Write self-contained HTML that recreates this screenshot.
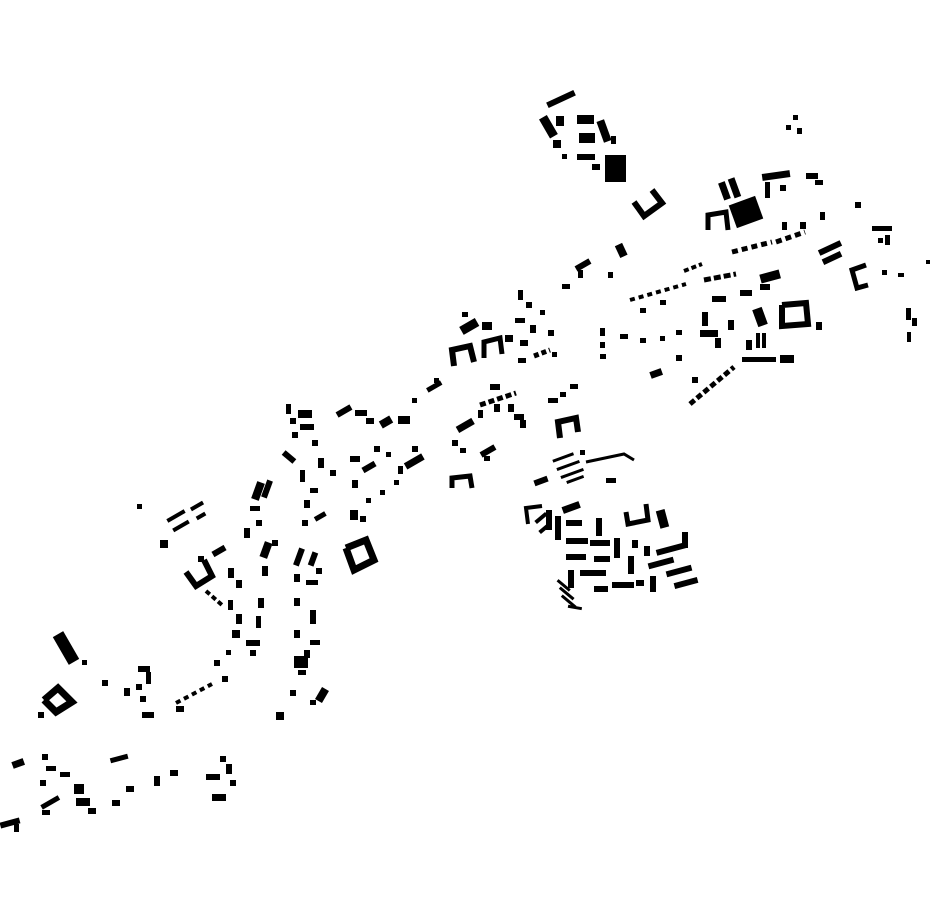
<!DOCTYPE html>
<html><head><meta charset="utf-8"><style>html,body{margin:0;padding:0;background:#fff}svg{display:block}</style></head>
<body>
<svg width="930" height="924" viewBox="0 0 930 924" xmlns="http://www.w3.org/2000/svg" fill="#000">
<!-- top cluster -->
<rect x="546" y="96" width="30" height="6" transform="rotate(-25 561 99)"/>
<rect x="544" y="116" width="9" height="22" transform="rotate(-30 548 127)"/>
<rect x="556" y="116" width="8" height="10"/>
<rect x="577" y="115" width="17" height="9"/>
<rect x="579" y="133" width="16" height="10"/>
<rect x="600" y="120" width="8" height="22" transform="rotate(-20 604 131)"/>
<rect x="605" y="155" width="21" height="27"/>
<rect x="577" y="154" width="18" height="6"/>
<rect x="592" y="164" width="8" height="6"/>
<rect x="553" y="140" width="8" height="8"/>
<rect x="562" y="154" width="5" height="5"/>
<rect x="611" y="136" width="5" height="8"/>
<polyline points="634,202 644,216 662,203 652,190" fill="none" stroke="#000" stroke-width="6"/>
<rect x="617" y="244" width="8" height="13" transform="rotate(-25 621 250)"/>
<!-- right cluster -->
<rect x="732" y="200" width="28" height="24" transform="rotate(-20 746 212)"/>
<rect x="721" y="182" width="7" height="18" transform="rotate(-20 724 191)"/>
<rect x="731" y="178" width="7" height="20" transform="rotate(-20 734 188)"/>
<polyline points="708,230 708,215 726,212 728,230" fill="none" stroke="#000" stroke-width="5"/>
<rect x="762" y="172" width="28" height="7" transform="rotate(-8 776 175)"/>
<rect x="765" y="182" width="5" height="16"/>
<rect x="780" y="185" width="6" height="6"/>
<rect x="806" y="173" width="12" height="6"/>
<rect x="815" y="180" width="8" height="5"/>
<rect x="793" y="115" width="5" height="5"/><rect x="786" y="125" width="5" height="5"/><rect x="797" y="128" width="5" height="6"/>
<rect x="855" y="202" width="6" height="6"/>
<rect x="872" y="226" width="20" height="5"/><rect x="885" y="235" width="5" height="10"/><rect x="878" y="238" width="5" height="5"/>
<polyline points="866,265 852,270 857,288 868,285" fill="none" stroke="#000" stroke-width="5"/>
<rect x="882" y="270" width="5" height="5"/><rect x="898" y="273" width="6" height="4"/><rect x="926" y="260" width="4" height="4"/>
<rect x="906" y="308" width="5" height="12"/><rect x="912" y="318" width="5" height="8"/><rect x="907" y="332" width="4" height="10"/>
<rect x="818" y="245" width="24" height="6" transform="rotate(-25 830 248)"/>
<rect x="822" y="255" width="20" height="6" transform="rotate(-25 832 258)"/>
<line x1="732" y1="252" x2="772" y2="242" stroke="#000" stroke-width="5" stroke-dasharray="6 4"/>
<line x1="776" y1="242" x2="805" y2="232" stroke="#000" stroke-width="5" stroke-dasharray="6 4"/>
<rect x="782" y="222" width="5" height="8"/><rect x="800" y="222" width="6" height="7"/><rect x="820" y="212" width="5" height="8"/>
<rect x="760" y="272" width="20" height="9" transform="rotate(-15 770 276)"/>
<rect x="760" y="284" width="10" height="6"/>
<rect x="740" y="290" width="12" height="6"/>
<line x1="704" y1="280" x2="736" y2="274" stroke="#000" stroke-width="5" stroke-dasharray="7 3"/>
<rect x="712" y="296" width="14" height="6"/>
<rect x="702" y="312" width="6" height="14"/>
<rect x="700" y="330" width="18" height="7"/>
<rect x="715" y="338" width="6" height="10"/>
<rect x="728" y="320" width="6" height="10"/>
<rect x="755" y="308" width="10" height="18" transform="rotate(-20 760 317)"/>
<polyline points="782,305 806,303 808,324 782,326 782,305" fill="none" stroke="#000" stroke-width="6"/>
<rect x="816" y="322" width="6" height="8"/>
<rect x="742" y="357" width="34" height="5"/><rect x="780" y="355" width="14" height="8"/>
<rect x="746" y="340" width="6" height="10"/><rect x="756" y="333" width="4" height="15"/><rect x="762" y="333" width="4" height="15"/>
<line x1="690" y1="404" x2="734" y2="367" stroke="#000" stroke-width="5" stroke-dasharray="6 3"/>
<rect x="650" y="370" width="12" height="7" transform="rotate(-20 656 373)"/>
<rect x="676" y="355" width="6" height="6"/><rect x="692" y="377" width="6" height="6"/>
<line x1="630" y1="300" x2="686" y2="284" stroke="#000" stroke-width="4" stroke-dasharray="5 4"/>
<rect x="640" y="308" width="6" height="5"/><rect x="660" y="300" width="6" height="5"/><line x1="684" y1="271" x2="702" y2="264" stroke="#000" stroke-width="4" stroke-dasharray="5 3"/>
<rect x="600" y="328" width="5" height="8"/><rect x="600" y="342" width="5" height="6"/><rect x="600" y="354" width="6" height="5"/>
<rect x="620" y="334" width="8" height="5"/><rect x="640" y="338" width="6" height="5"/><rect x="660" y="336" width="5" height="5"/><rect x="676" y="330" width="6" height="5"/>
<!-- middle -->
<rect x="575" y="262" width="16" height="6" transform="rotate(-30 583 265)"/>
<rect x="578" y="270" width="5" height="8"/>
<rect x="562" y="284" width="8" height="5"/>
<rect x="608" y="272" width="5" height="6"/>
<rect x="460" y="322" width="18" height="9" transform="rotate(-30 469 326)"/>
<rect x="462" y="312" width="6" height="5"/>
<polyline points="454,366 452,350 470,346 474,362" fill="none" stroke="#000" stroke-width="6"/>
<polyline points="484,358 484,342 500,338 502,354" fill="none" stroke="#000" stroke-width="5"/>
<rect x="482" y="322" width="10" height="8"/>
<rect x="505" y="335" width="8" height="7"/>
<rect x="518" y="290" width="5" height="10"/><rect x="526" y="302" width="6" height="6"/>
<rect x="515" y="318" width="10" height="5"/><rect x="530" y="325" width="6" height="8"/><rect x="520" y="340" width="8" height="6"/>
<rect x="540" y="310" width="5" height="5"/><rect x="548" y="330" width="6" height="6"/><line x1="534" y1="356" x2="550" y2="350" stroke="#000" stroke-width="5" stroke-dasharray="5 3"/>
<rect x="518" y="358" width="8" height="5"/><rect x="552" y="352" width="5" height="5"/>
<rect x="426" y="384" width="16" height="5" transform="rotate(-30 434 386)"/>
<rect x="434" y="378" width="5" height="5"/>
<rect x="412" y="398" width="5" height="5"/>
<rect x="398" y="416" width="12" height="8"/>
<rect x="380" y="418" width="12" height="8" transform="rotate(-30 386 422)"/>
<rect x="336" y="408" width="16" height="6" transform="rotate(-30 344 411)"/>
<rect x="355" y="410" width="12" height="6"/>
<rect x="366" y="418" width="8" height="6"/>
<rect x="286" y="404" width="5" height="10"/><rect x="298" y="410" width="14" height="8"/><rect x="290" y="418" width="6" height="6"/><rect x="300" y="424" width="14" height="6"/><rect x="292" y="432" width="6" height="6"/>
<line x1="480" y1="405" x2="516" y2="393" stroke="#000" stroke-width="5" stroke-dasharray="6 3"/>
<rect x="490" y="384" width="10" height="6"/><rect x="494" y="404" width="6" height="8"/><rect x="508" y="404" width="6" height="8"/><rect x="514" y="414" width="10" height="6"/><rect x="520" y="420" width="6" height="8"/>
<rect x="456" y="422" width="18" height="7" transform="rotate(-30 465 425)"/>
<rect x="478" y="410" width="5" height="8"/>
<rect x="452" y="440" width="6" height="6"/><rect x="460" y="448" width="6" height="5"/>
<rect x="480" y="448" width="16" height="6" transform="rotate(-30 488 451)"/><rect x="484" y="456" width="6" height="5"/>
<polyline points="452,488 452,478 470,476 472,488" fill="none" stroke="#000" stroke-width="5"/>
<rect x="548" y="398" width="10" height="5"/><rect x="570" y="384" width="8" height="5"/><rect x="560" y="392" width="6" height="5"/>
<polyline points="560,438 558,422 576,418 578,432" fill="none" stroke="#000" stroke-width="6"/>
<!-- fan lines -->
<rect x="552" y="456" width="22" height="3" transform="rotate(-20 563 457)"/>
<rect x="556" y="464" width="24" height="3" transform="rotate(-20 568 465)"/>
<rect x="560" y="472" width="24" height="3" transform="rotate(-20 572 473)"/>
<rect x="566" y="478" width="18" height="3" transform="rotate(-20 575 479)"/>
<polyline points="586,462 624,454 634,460" fill="none" stroke="#000" stroke-width="3"/>
<rect x="534" y="478" width="14" height="6" transform="rotate(-20 541 481)"/>
<rect x="606" y="478" width="10" height="5"/>
<rect x="580" y="450" width="5" height="5"/>
<!-- bottom right block -->
<polyline points="528,524 526,508 542,506" fill="none" stroke="#000" stroke-width="4"/>
<rect x="534" y="516" width="14" height="4" transform="rotate(-40 541 518)"/>
<rect x="538" y="526" width="14" height="4" transform="rotate(-40 545 528)"/>
<rect x="546" y="510" width="6" height="20"/>
<rect x="562" y="504" width="18" height="7" transform="rotate(-20 571 507)"/>
<rect x="555" y="516" width="6" height="24"/>
<rect x="566" y="520" width="16" height="6"/>
<rect x="596" y="518" width="6" height="18"/>
<rect x="566" y="538" width="22" height="6"/>
<rect x="590" y="540" width="20" height="6"/>
<rect x="614" y="538" width="6" height="20"/>
<rect x="566" y="554" width="20" height="6"/>
<rect x="594" y="556" width="16" height="6"/>
<rect x="568" y="570" width="6" height="18"/>
<rect x="580" y="570" width="26" height="6"/>
<rect x="594" y="586" width="14" height="6"/>
<rect x="612" y="582" width="22" height="6"/>
<rect x="628" y="556" width="6" height="18"/>
<rect x="644" y="546" width="6" height="10"/>
<rect x="648" y="560" width="26" height="6" transform="rotate(-15 661 563)"/>
<rect x="656" y="546" width="30" height="6" transform="rotate(-15 671 549)"/>
<rect x="650" y="576" width="6" height="16"/>
<rect x="666" y="568" width="26" height="6" transform="rotate(-15 679 571)"/>
<rect x="674" y="580" width="24" height="6" transform="rotate(-15 686 583)"/>
<rect x="682" y="532" width="6" height="16"/>
<rect x="636" y="580" width="8" height="6"/>
<polyline points="626,512 628,524 648,520 646,504" fill="none" stroke="#000" stroke-width="5"/>
<rect x="658" y="510" width="9" height="18" transform="rotate(-15 662 519)"/>
<rect x="632" y="540" width="6" height="8"/>
<rect x="556" y="584" width="16" height="3" transform="rotate(40 564 585)"/>
<rect x="558" y="592" width="18" height="3" transform="rotate(40 567 593)"/>
<rect x="560" y="600" width="18" height="3" transform="rotate(40 569 601)"/>
<rect x="568" y="606" width="14" height="3" transform="rotate(10 575 607)"/>
<!-- mid-left -->
<rect x="282" y="454" width="14" height="6" transform="rotate(40 289 457)"/>
<rect x="312" y="440" width="6" height="6"/><rect x="318" y="458" width="6" height="10"/><rect x="330" y="470" width="6" height="6"/>
<rect x="350" y="456" width="10" height="6"/><rect x="362" y="464" width="14" height="6" transform="rotate(-30 369 467)"/>
<rect x="404" y="458" width="20" height="7" transform="rotate(-30 414 461)"/>
<rect x="412" y="446" width="6" height="6"/><rect x="398" y="466" width="5" height="8"/>
<rect x="352" y="480" width="6" height="8"/><rect x="374" y="446" width="6" height="6"/><rect x="386" y="452" width="5" height="5"/>
<rect x="380" y="490" width="5" height="5"/><rect x="394" y="480" width="5" height="5"/><rect x="366" y="498" width="5" height="5"/>
<rect x="350" y="510" width="8" height="10"/><rect x="360" y="516" width="6" height="6"/>
<rect x="300" y="470" width="5" height="12"/><rect x="310" y="488" width="8" height="5"/><rect x="304" y="500" width="6" height="8"/><rect x="314" y="514" width="12" height="5" transform="rotate(-30 320 516)"/><rect x="302" y="520" width="6" height="6"/>
<rect x="254" y="482" width="8" height="18" transform="rotate(20 258 491)"/>
<rect x="264" y="480" width="6" height="18" transform="rotate(20 267 489)"/>
<rect x="250" y="506" width="10" height="5"/><rect x="256" y="520" width="6" height="6"/>
<rect x="166" y="514" width="20" height="4" transform="rotate(-30 176 516)"/>
<rect x="172" y="524" width="18" height="4" transform="rotate(-30 181 526)"/>
<rect x="190" y="504" width="14" height="4" transform="rotate(-30 197 506)"/>
<rect x="196" y="514" width="10" height="4" transform="rotate(-30 201 516)"/>
<rect x="160" y="540" width="8" height="8"/>
<rect x="137" y="504" width="5" height="5"/>
<rect x="244" y="528" width="6" height="10"/>
<rect x="262" y="542" width="8" height="16" transform="rotate(20 266 550)"/>
<rect x="272" y="540" width="6" height="6"/>
<rect x="212" y="548" width="14" height="6" transform="rotate(-30 219 551)"/>
<polyline points="186,572 196,586 212,576 204,560" fill="none" stroke="#000" stroke-width="6"/>
<rect x="198" y="556" width="6" height="6"/>
<rect x="228" y="568" width="6" height="10"/><rect x="236" y="580" width="6" height="8"/><rect x="262" y="566" width="6" height="10"/>
<line x1="206" y1="591" x2="222" y2="605" stroke="#000" stroke-width="4" stroke-dasharray="5 3"/>
<rect x="228" y="600" width="5" height="10"/><rect x="236" y="614" width="6" height="10"/><rect x="232" y="630" width="8" height="8"/><rect x="246" y="640" width="14" height="6"/><rect x="250" y="650" width="6" height="6"/>
<rect x="258" y="598" width="6" height="10"/><rect x="256" y="616" width="5" height="12"/>
<rect x="296" y="548" width="6" height="18" transform="rotate(20 299 557)"/>
<rect x="310" y="552" width="6" height="14" transform="rotate(20 313 559)"/>
<rect x="294" y="574" width="6" height="8"/><rect x="306" y="580" width="12" height="5"/><rect x="316" y="568" width="6" height="6"/>
<rect x="294" y="598" width="6" height="8"/><rect x="310" y="610" width="6" height="14"/><rect x="294" y="630" width="6" height="8"/><rect x="310" y="640" width="10" height="5"/><rect x="304" y="650" width="6" height="8"/>
<polyline points="346,548 366,540 374,560 354,570 346,548" fill="none" stroke="#000" stroke-width="7"/>
<rect x="294" y="656" width="14" height="12"/>
<rect x="298" y="670" width="8" height="5"/>
<rect x="290" y="690" width="6" height="6"/>
<rect x="318" y="688" width="8" height="14" transform="rotate(30 322 695)"/>
<rect x="310" y="700" width="6" height="5"/>
<rect x="276" y="712" width="8" height="8"/>
<rect x="214" y="660" width="6" height="6"/><rect x="222" y="676" width="6" height="6"/><rect x="226" y="650" width="5" height="5"/>
<line x1="176" y1="703" x2="212" y2="684" stroke="#000" stroke-width="4" stroke-dasharray="5 4"/>
<rect x="176" y="706" width="8" height="6"/>
<rect x="138" y="666" width="12" height="6"/><rect x="146" y="672" width="5" height="12"/><rect x="124" y="688" width="6" height="8"/><rect x="136" y="684" width="6" height="6"/><rect x="142" y="712" width="12" height="6"/><rect x="140" y="696" width="6" height="6"/>
<rect x="102" y="680" width="6" height="6"/>
<!-- far left -->
<rect x="60" y="632" width="12" height="32" transform="rotate(-30 66 648)"/>
<rect x="82" y="660" width="5" height="5"/>
<polyline points="44,700 58,688 72,702 56,712 44,700" fill="none" stroke="#000" stroke-width="7"/>
<rect x="38" y="712" width="6" height="6"/>
<rect x="12" y="760" width="12" height="7" transform="rotate(-20 18 763)"/>
<rect x="42" y="754" width="6" height="6"/><rect x="46" y="766" width="10" height="5"/><rect x="40" y="780" width="6" height="6"/>
<rect x="60" y="772" width="10" height="5"/><rect x="74" y="784" width="10" height="10"/><rect x="76" y="798" width="14" height="8"/><rect x="88" y="808" width="8" height="6"/>
<rect x="40" y="800" width="20" height="5" transform="rotate(-30 50 802)"/><rect x="42" y="810" width="8" height="5"/>
<rect x="110" y="756" width="18" height="5" transform="rotate(-15 119 758)"/>
<rect x="112" y="800" width="8" height="6"/><rect x="126" y="786" width="8" height="6"/><rect x="154" y="776" width="6" height="10"/><rect x="170" y="770" width="8" height="6"/>
<rect x="206" y="774" width="14" height="6"/><rect x="220" y="756" width="6" height="6"/><rect x="226" y="764" width="6" height="10"/><rect x="230" y="780" width="6" height="6"/><rect x="212" y="794" width="14" height="7"/>
<rect x="0" y="820" width="20" height="6" transform="rotate(-15 10 823)"/><rect x="14" y="824" width="5" height="8"/>
</svg>
</body></html>
